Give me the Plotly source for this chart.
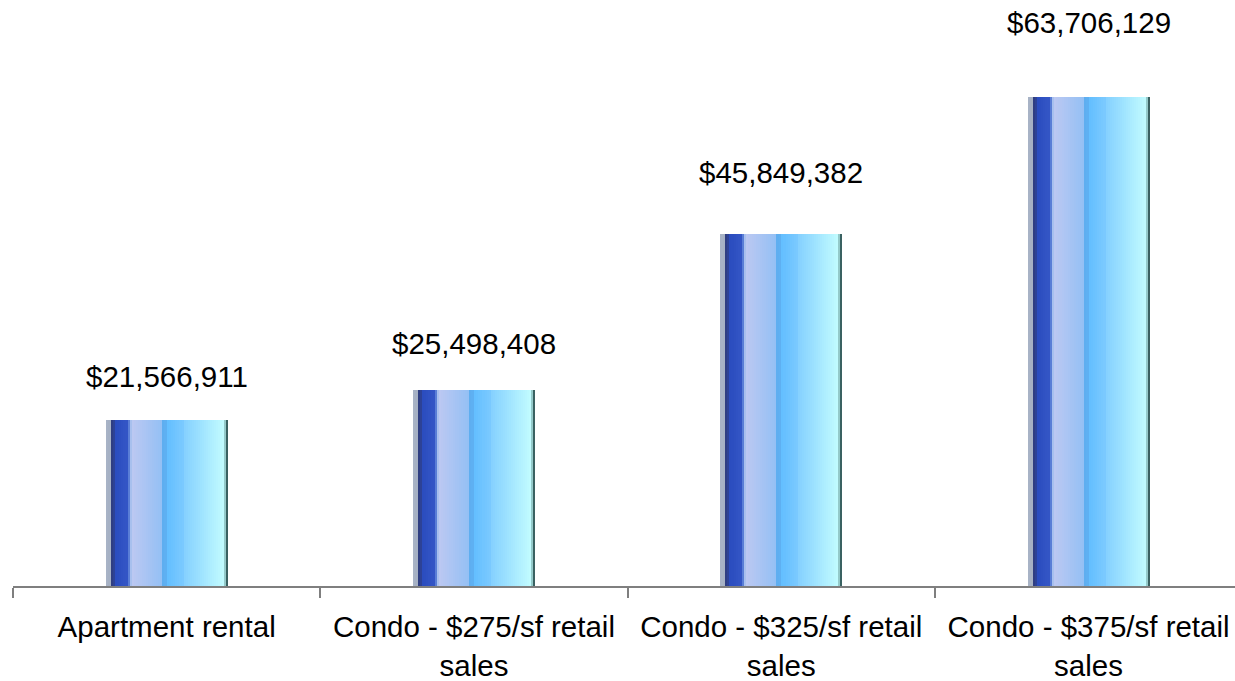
import plotly.graph_objects as go

categories = ["Apartment rental", "Condo - $275/sf retail<br>sales",
              "Condo - $325/sf retail<br>sales", "Condo - $375/sf retail<br>sales"]
values = [21566911, 25498408, 45849382, 63706129]
value_labels = ["$21,566,911", "$25,498,408", "$45,849,382", "$63,706,129"]

# ---- styling ----
CAT_PX = 307.3          # pixels per category
BAR_PX = 122.0          # bar width in pixels
BAR_W = BAR_PX / CAT_PX
FONT = "Liberation Sans, Arial, sans-serif"


def hx(c):
    c = c.lstrip('#')
    return tuple(int(c[i:i + 2], 16) for i in (0, 2, 4))


def mix(a, b, t):
    a, b = hx(a), hx(b)
    return "rgb(%d,%d,%d)" % tuple(round(a[i] + (b[i] - a[i]) * t) for i in range(3))


# gradient segments across bar width: (start px, end px, color start, color end)
segments = [
    (0, 5, "#aab4c6", "#a4b0c4"),
    (5, 9, "#303c78", "#2c44a0"),
    (9, 22, "#2a4cbe", "#3456c6"),
    (22, 24, "#5a7ed6", "#5a7ed6"),
    (24, 26, "#a8c0ee", "#a8c0ee"),
    (26, 56, "#bcc8f2", "#94c0f4"),
    (56, 61, "#5eaef0", "#5eb0f2"),
    (61, 78, "#62beff", "#7ccaff"),
    (78, 118, "#84d0ff", "#c2fcff"),
    (118, 120, "#94caca", "#94caca"),
    (120, 122, "#3a6262", "#3a6262"),
]

strips = []
for s0, s1, c0, c1 in segments:
    n = max(1, int(round((s1 - s0) / 2)))
    for k in range(n):
        a = s0 + (s1 - s0) * k / n
        b = s0 + (s1 - s0) * (k + 1) / n
        t = (k + 0.5) / n if n > 1 else 0
        strips.append((a, b, mix(c0, c1, t)))

fig = go.Figure()
for a, b, col in strips:
    ext = 0.6 if b < BAR_PX else 0.0
    fig.add_trace(go.Bar(
        x=categories, y=values,
        width=(b - a + ext) / CAT_PX,
        offset=-BAR_W / 2 + a / CAT_PX,
        marker=dict(color=col, line=dict(width=0)),
        hoverinfo="skip", showlegend=False,
    ))

# value labels on an invisible secondary axis
for cat, v, lab in zip(categories, values, value_labels):
    fig.add_annotation(x=cat, y=v, xref="x", yref="y2", text=lab,
                       showarrow=False, yanchor="middle", yshift=28,
                       font=dict(family=FONT, size=29.5, color="black"))

fig.add_trace(go.Scatter(x=categories, y=values, yaxis="y2", mode="markers",
                         marker=dict(opacity=0), hoverinfo="skip", showlegend=False))

PLOT_H = 681 - 48 - 95
fig.update_layout(
    width=1235, height=681,
    margin=dict(l=13, r=0, t=48, b=95, autoexpand=False),
    paper_bgcolor="white", plot_bgcolor="white",
    barmode="overlay", bargap=0,
    xaxis=dict(type="category", range=[-0.5, -0.5 + 1222 / CAT_PX],
               tickson="boundaries", ticks="outside", ticklen=10, tickwidth=1.5,
               tickcolor="#7f7f7f", showline=True, linecolor="#7f7f7f", linewidth=1.5,
               showgrid=False, zeroline=False, ticklabelstandoff=14, automargin=False,
               tickfont=dict(family=FONT, size=29.5, color="black")),
    yaxis=dict(range=[0, PLOT_H / 7.678 * 1e6], visible=False, showgrid=False,
               automargin=False),
    yaxis2=dict(range=[0, PLOT_H / 8.4 * 1e6], overlaying="y", visible=False,
                showgrid=False, automargin=False),
)

fig.write_html("out.html")
